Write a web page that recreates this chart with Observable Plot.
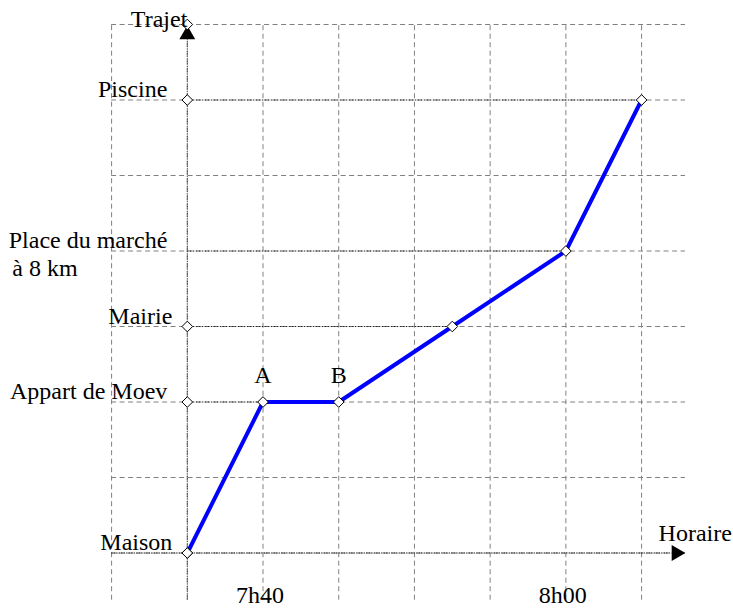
<!DOCTYPE html>
<html><head><meta charset="utf-8">
<script src="https://cdn.jsdelivr.net/npm/d3@7"></script>
<script src="https://cdn.jsdelivr.net/npm/@observablehq/plot@0.6"></script>
<style>body{margin:0;background:#fff;}</style>
</head><body><div id="chart"></div>
<script>
// Data: time in minutes after 7h00, distance in km
const times = [35, 40, 45, 52.5, 60, 65];
const distances = [0, 4, 4, 6, 8, 12];
const placeNames = ["Maison", "Appart de Moev", "Mairie", "Place du marché", "Piscine"];
const placeKm = [0, 4, 6, 8, 12];
const placeTimes = [35, 40, 52.5, 60, 65];
const placeNote = ["à 8 km"];
const pointLabels = ["A", "B"];
const pointTimes = [40, 45];
const pointKm = [4, 4];
const tickTimes = [40, 60];
const tickLabels = ["7h40", "8h00"];
const gridTimes = [30, 35, 40, 45, 50, 55, 60, 65];
const gridKm = [0, 2, 4, 6, 8, 10, 12, 14];
const axisMarkKm = [0, 4, 6, 12, 14];
const xTitle = ["Horaire"];
const yTitle = ["Trajet"];

const font = "'Liberation Serif', 'Times New Roman', serif";
const fs = 24;
const origin = 35;

const chart = Plot.plot({
  width: 733,
  height: 610,
  margin: 0,
  style: {background: "#fff", fontFamily: font, overflow: "visible"},
  x: {domain: [22.664, 71.07], axis: null},
  y: {domain: [-1.523, 14.636], axis: null},
  marks: [
    // grid
    Plot.ruleX(gridTimes, {x: d => d, y1: -1.25, y2: 14, stroke: "#808080", strokeWidth: 1, strokeDasharray: "5,3.5"}),
    Plot.ruleY(gridKm, {y: d => d, x1: 30, x2: 67.9, stroke: "#808080", strokeWidth: 1, strokeDasharray: "5,3.5"}),
    // leader lines
    Plot.ruleY(placeKm, {y: d => d, x1: origin, x2: (d, i) => placeTimes[i], stroke: "#222", strokeWidth: 1, strokeDasharray: "1.5,1.5"}),
    // axes
    Plot.ruleY([0], {x1: 30, x2: 67, stroke: "#222", strokeWidth: 1, strokeDasharray: "1.5,1"}),
    Plot.ruleX([origin], {y1: -1.25, y2: 14, stroke: "#444", strokeWidth: 1, strokeDasharray: "1.5,1"}),
    // arrows
    Plot.dot([0], {x: origin, y: 13.73, symbol: "triangle", r: 5.9, fill: "black", stroke: "none"}),
    Plot.dot([0], {x: 67.29, y: 0, symbol: "triangle", r: 5.9, rotate: 90, fill: "black", stroke: "none"}),
    // journey
    Plot.line(times, {x: d => d, y: (d, i) => distances[i], stroke: "#0000ff", strokeWidth: 4}),
    Plot.dot(axisMarkKm, {x: origin, y: d => d, symbol: "diamond2", r: 4.8, fill: "white", stroke: "black", strokeWidth: 1}),
    Plot.dot(times, {x: d => d, y: (d, i) => distances[i], symbol: "diamond2", r: 4.8, fill: "white", stroke: "black", strokeWidth: 1}),
    // place labels
    Plot.text(placeNames, {filter: (d, i) => i === 1 || i === 3 || i === 4, x: origin, y: (d, i) => placeKm[i], text: d => d, textAnchor: "end", lineAnchor: "bottom", dx: -20, dy: -3, fontSize: fs, fontFamily: font, fill: "black"}),
    Plot.text(placeNames, {filter: (d, i) => i === 0 || i === 2, x: origin, y: (d, i) => placeKm[i], text: d => d, textAnchor: "end", lineAnchor: "bottom", dx: -15, dy: -3, fontSize: fs, fontFamily: font, fill: "black"}),
    Plot.text(placeNote, {x: origin, y: placeKm[3], text: d => d, textAnchor: "start", lineAnchor: "bottom", dx: -175, dy: 25, fontSize: fs, fontFamily: font, fill: "black"}),
    // A, B
    Plot.text(pointLabels, {x: (d, i) => pointTimes[i], y: (d, i) => pointKm[i], text: d => d, textAnchor: "middle", lineAnchor: "bottom", dy: -19, fontSize: fs, fontFamily: font, fill: "black"}),
    // time ticks
    Plot.text(tickLabels, {x: (d, i) => tickTimes[i], y: 0, text: d => d, textAnchor: "middle", lineAnchor: "bottom", dx: -3, dy: 50, fontSize: fs, fontFamily: font, fill: "black"}),
    // axis titles
    Plot.text(xTitle, {x: 65, y: 0, text: d => d, textAnchor: "start", lineAnchor: "bottom", dx: 17, dy: -12.5, fontSize: fs, fontFamily: font, fill: "black"}),
    Plot.text(yTitle, {x: origin, y: 14, text: d => d, textAnchor: "end", lineAnchor: "bottom", dx: 0, dy: 2, fontSize: fs, fontFamily: font, fill: "black"})
  ]
});
document.getElementById("chart").appendChild(chart);
</script>
</body></html>
